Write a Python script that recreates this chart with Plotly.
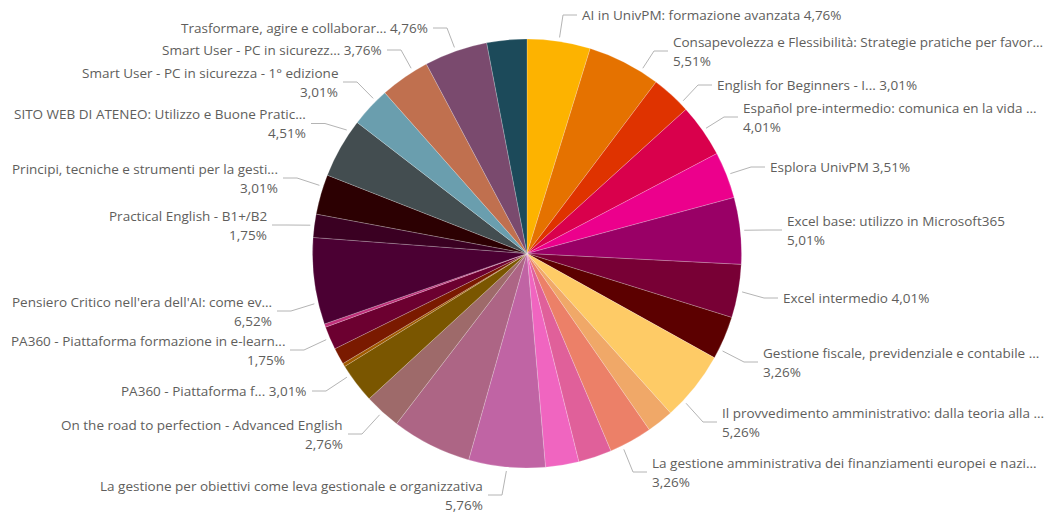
import math
import plotly.graph_objects as go

# Course share of enrolments (%), in the order the slices run clockwise from 12 o'clock
courses = [
    "AI in UnivPM: formazione avanzata",
    "Consapevolezza e Flessibilità: Strategie pratiche per favor...",
    "English for Beginners - I...",
    "Español pre-intermedio: comunica en la vida ...",
    "Esplora UnivPM",
    "Excel base: utilizzo in Microsoft365",
    "Excel intermedio",
    "Gestione fiscale, previdenziale e contabile ...",
    "Il provvedimento amministrativo: dalla teoria alla ...",
    "Il rapporto di lavoro nel pubblico impiego",
    "La gestione amministrativa dei finanziamenti europei e nazi...",
    "La gestione dei progetti di ricerca",
    "La gestione del cambiamento organizzativo",
    "La gestione per obiettivi come leva gestionale e organizzativa",
    "Lavorare in team: comunicazione efficace",
    "On the road to perfection - Advanced English",
    "PA360 - Piattaforma f...",
    "PA360 - Piattaforma formazione - modulo base",
    "PA360 - Piattaforma formazione - modulo avanzato",
    "PA360 - Piattaforma formazione in e-learn...",
    "Parità di genere e inclusione",
    "Pensiero Critico nell'era dell'AI: come ev...",
    "Practical English - B1+/B2",
    "Principi, tecniche e strumenti per la gesti...",
    "SITO WEB DI ATENEO: Utilizzo e Buone Pratic...",
    "Smart User - PC in sicurezza - 1° edizione",
    "Smart User - PC in sicurezz...",
    "Trasformare, agire e collaborar...",
    "Word: documenti professionali",
]

shares = [
    4.76, 5.51, 3.01, 4.01, 3.51, 5.01, 4.01, 3.26, 5.26, 2.01,
    3.26, 2.51, 2.51, 5.76, 6.02, 2.76, 3.01, 0.25, 1.25, 1.75,
    0.25, 6.52, 1.75, 3.01, 4.51, 3.01, 3.76, 4.76, 3.01,
]

slice_colors = [
    "#FDB300", "#E57200", "#DF3300", "#D9004C", "#EC008C", "#990066",
    "#780035", "#5C0000", "#FECB66", "#F0A868", "#EC8068", "#E0609A",
    "#F065C0", "#C064A4", "#AD6585", "#9E6A6A", "#7A5600", "#A05A00",
    "#7A1A00", "#6C0030", "#C0307A", "#4B0033", "#3A0022", "#2C0002",
    "#434D50", "#6A9EAE", "#C0704F", "#7A4A6E", "#1C4A5A",
]

# Label placement (pixel space): side, text edge x, leader y, line count,
# and where along its slice the leader starts (0 = start, 1 = end)
label_layout = {
    0: dict(side="r", x=582, y=15, lines=1, frac=0.5),
    1: dict(side="r", x=673, y=51, lines=2, frac=0.75),
    2: dict(side="r", x=717, y=85, lines=1, frac=0.8),
    3: dict(side="r", x=743, y=117, lines=2, frac=0.5),
    4: dict(side="r", x=770, y=167, lines=1, frac=0.5),
    5: dict(side="r", x=787, y=230, lines=2, frac=0.5),
    6: dict(side="r", x=783, y=298, lines=1, frac=0.5),
    7: dict(side="r", x=763, y=362, lines=2, frac=0.78),
    8: dict(side="r", x=722, y=422, lines=2, frac=0.75),
    10: dict(side="r", x=652, y=472, lines=2, frac=0.72),
    13: dict(side="l", x=483, y=495, lines=2, frac=0.5),
    15: dict(side="l", x=343, y=434, lines=2, frac=0.5),
    16: dict(side="l", x=307, y=391, lines=1, frac=0.75),
    19: dict(side="l", x=285, y=350, lines=2, frac=0.5),
    21: dict(side="l", x=272, y=311, lines=2, frac=0.25),
    22: dict(side="l", x=267, y=225, lines=2, frac=0.5),
    23: dict(side="l", x=278, y=178, lines=2, frac=0.7),
    24: dict(side="l", x=306, y=123.5, lines=2, frac=0.8),
    25: dict(side="l", x=338, y=82, lines=2, frac=0.7),
    26: dict(side="l", x=382, y=50, lines=1, frac=0.7),
    27: dict(side="l", x=428, y=28, lines=1, frac=0.5),
}

W, H = 1044, 513
CX, CY, R = 527.0, 253.5, 214.5
FONT = "Open Sans, Segoe UI, sans-serif"
FONT_SIZE = 13.5
LINE_GAP = 9.5
TEXT_COLOR = "#605E5C"
LEADER_COLOR = "#B4B4B4"

fig = go.Figure()

fig.add_trace(go.Pie(
    labels=courses,
    values=shares,
    sort=False,
    direction="clockwise",
    rotation=0,
    textinfo="none",
    hoverinfo="label+percent",
    marker=dict(colors=slice_colors,
                line=dict(color="rgba(255,255,255,0.35)", width=0.6)),
    domain=dict(x=[(CX - R) / W, (CX + R) / W],
                y=[(H - CY - R) / H, (H - CY + R) / H]),
    showlegend=False,
))


def fmt_pct(v):
    return f"{v:.2f}".replace(".", ",") + "%"


total = sum(shares)
starts = []
acc = 0.0
for v in shares:
    starts.append(acc)
    acc += v

annotations = []
shapes = []
for i, spec in label_layout.items():
    a0 = starts[i] / total * 360.0
    a1 = (starts[i] + shares[i]) / total * 360.0
    ang = math.radians(a0 + (a1 - a0) * spec["frac"])
    p0 = (CX + (R + 4) * math.sin(ang), CY - (R + 4) * math.cos(ang))
    y = spec["y"]
    sgn = 1 if spec["side"] == "r" else -1
    p2 = (spec["x"] - sgn * 5, y)
    p1 = (p2[0] - sgn * 14, y)
    if (p1[0] - p0[0]) * sgn < 0:
        path = f"M{p0[0]},{p0[1]} L{p2[0]},{p2[1]}"
    else:
        path = f"M{p0[0]},{p0[1]} L{p1[0]},{p1[1]} L{p2[0]},{p2[1]}"
    shapes.append(dict(type="path", path=path, xref="x", yref="y",
                       line=dict(color=LEADER_COLOR, width=1)))

    name = courses[i]
    pct = fmt_pct(shares[i])
    if spec["lines"] == 1:
        rows = [(name + " " + pct, y)]
    else:
        rows = [(name, y - LINE_GAP), (pct, y + LINE_GAP)]
    for txt, ty in rows:
        annotations.append(dict(
            x=spec["x"], y=ty, xref="x", yref="y", text=txt, showarrow=False,
            xanchor="left" if sgn == 1 else "right", yanchor="middle",
            font=dict(family=FONT, size=FONT_SIZE, color=TEXT_COLOR),
            borderpad=0, borderwidth=0,
        ))

fig.update_layout(
    width=W, height=H,
    margin=dict(l=0, r=0, t=0, b=0),
    paper_bgcolor="white", plot_bgcolor="white",
    xaxis=dict(range=[0, W], visible=False, fixedrange=True),
    yaxis=dict(range=[H, 0], visible=False, fixedrange=True),
    annotations=annotations,
    shapes=shapes,
)

fig.write_html("out.html")
